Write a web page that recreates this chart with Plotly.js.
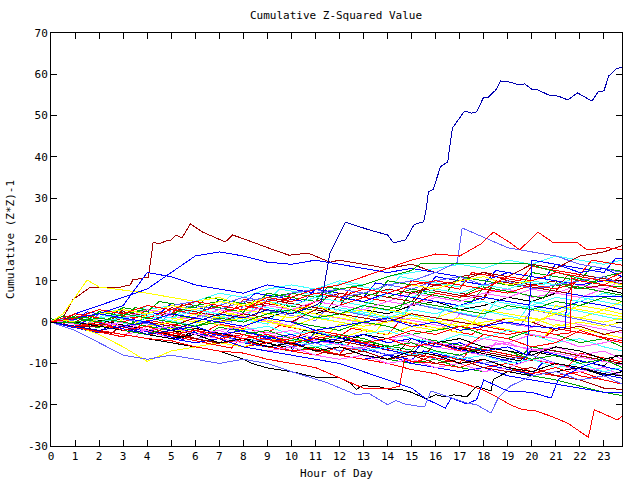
<!DOCTYPE html>
<html>
<head>
<meta charset="utf-8">
<script src="https://cdn.plot.ly/plotly-3.0.1.min.js"></script>
<style>
html,body{margin:0;padding:0;background:#fff;}
#chart{width:640px;height:480px;}
svg path.js-line{shape-rendering:crispEdges;}
</style>
</head>
<body>
<div id="chart"></div>
<script>
// ---- reading grids ----
const hours = [0,1,2,3,4,5,6,7,8,9,10,11,12,13,14,15,16,17,18,19,20,21,22,23,23.75];
const halfHours = [0,0.5,1,1.5,2,2.5,3,3.5,4,4.5,5,5.5,6,6.5,7,7.5,8,8.5,9,9.5,10,10.5,11,11.5,
  12,12.5,13,13.5,14,14.5,15,15.5,16,16.5,17,17.5,18,18.5,19,19.5,20,20.5,21,21.5,22,22.5,23,23.5,23.75];
const hourTicks = [0,1,2,3,4,5,6,7,8,9,10,11,12,13,14,15,16,17,18,19,20,21,22,23];
const valueTicks = [-30,-20,-10,0,10,20,30,40,50,60,70];

// ---- hourly series ----
const red1 = [0,-1,-2,-1,-3,-4,-3,-5,-6,-5,-7,-8,-6,-7,-9,-10,-8,-9,-11,-10,-12,-13,-12,-14,-15];
const red2 = [0,2,1,0,2,1,3,2,4,3,2,5,4,6,5,4,7,6,8,7,9,8,10,9,11];
const red3 = [0,-1,0,-2,-1,-3,-2,-4,-3,-5,-4,-2,-3,-5,-4,-6,-5,-7,-3,-4,-6,-5,-2,-4,-5];
const red4 = [0,1,3,2,4,3,5,4,3,6,5,7,6,8,7,9,10,9,8,11,10,12,11,10,12];
const darkred2 = [0,1,2,1,3,2,4,3,5,4,6,5,7,6,8,7,9,10,12,11,14,13,16,17,18.5];
const darkred3 = [0,-1,-1,-2,-3,-2,-4,-5,-4,-6,-5,-7,-8,-7,-9,-8,-10,-9,-11,-12,-11,-13,-14,-16,-16.3];
const darkred4 = [0,0,-1,1,0,-1,1,0,2,1,0,3,2,1,0,2,1,0,-1,1,0,-2,-1,-3,-2];
const green2 = [0,-1,-2,-1,-3,-2,-4,-5,-4,-6,-7,-6,-8,-7,-9,-10,-9,-11,-12,-11,-13,-14,-15.5,-17,-17.8];
const green3 = [0,1,0,-1,1,0,2,1,3,2,4,6,5,7,6,8,7,6,9,8,10,9,8,11,12];
const green4 = [0,-1,0,-2,-3,-1,-2,-4,-3,-2,-4,-5,-3,-4,-6,-5,-7,-8,-6,-7,-9,-8,-10,-9,-11];
const green5 = [0,0,1,0,-1,-2,-1,0,-1,1,0,-1,-2,0,-1,-3,-2,-1,-3,-4,-2,-3,-5,-4,-6];
const green6 = [0,1,0,2,1,0,-1,1,0,2,3,1,2,4,3,5,4,3,2,4,3,5,4,6,5];
const blue3 = [0,-1,0,-2,-1,-3,-4,-3,-5,-6,-5,-7,-8,-9,-8,-10,-11,-12,-11,-13,-14,-15,-16,-17,-17];
const blue4 = [0,2,4,6,8,12,16,17,16,14.5,14,15,14,13,12,13,12,11,10,12,11,10,9,10,10];
const blue5 = [0,1,2,4,12,11,9,8,7,9,8,7,6,5,7,6,5,4,6,5,4,3,5,4,3];
const slate3 = [0,-1,-2,-1,-3,-2,-4,-3,-5,-4,-6,-5,-7,-6,-8,-7,-9,-8,-10,-9,-8,-10,-11,-12,-13];
const slate4 = [0,1,2,3,2,4,5,4,6,5,7,8,6,7,9,8,10,11,9,10,8,9,10,11,9];
const cyan1 = [0,1,2,1,3,4,5,7,6,8,9,8,10,9,11,12,13,14,13,15,14,16,15,14,15];
const cyan2 = [0,-1,0,-2,-1,-3,-2,-4,-5,-3,-4,-6,-5,-7,-6,-8,-7,-9,-8,-10,-9,-11,-10,-12,-11];
const cyan3 = [0,0,1,2,1,3,2,4,3,5,4,6,5,4,7,6,8,7,9,8,10,9,11,10,9];
const cyan4 = [0,-1,-2,-1,0,-2,-1,-3,-2,-1,-3,-2,-4,-3,-2,-4,-5,-3,-4,-2,-3,-5,-4,-6,-7];
const cyan5 = [0,1,0,1,2,1,3,2,1,3,2,4,3,2,1,3,2,4,5,3,4,6,5,7,6];
const magenta1 = [0,1,0,2,3,2,4,3,5,4,6,5,4,6,5,7,6,5,7,8,6,7,9,8,7];
const magenta2 = [0,-1,-2,-3,-2,-4,-5,-4,-6,-7,-6,-8,-9,-8,-10,-9,-11,-10,-12,-11,-9,-10,-12,-11,-13];
const magenta3 = [0,0,-1,0,-2,-1,-3,-2,-1,-3,-4,-2,-3,-5,-4,-6,-5,-4,-6,-5,-7,-6,-8,-7,-9];
const magenta4 = [0,1,2,1,3,2,1,3,2,4,3,5,4,3,5,4,6,5,7,6,8,7,6,8,10];
const magenta5 = [0,-1,0,-1,-2,-1,-3,-2,-4,-3,-2,-4,-3,-5,-4,-3,-5,-6,-4,-5,-3,-4,-6,-5,-4];
const yellow2 = [0,-1,-3,-6,-9.5,-7,-6,-5,-6,-4,-5,-3,-4,-2,-3,-1,-2,0,-1,1,0,2,1,3,2];
const yellow3 = [0,1,0,2,1,0,2,1,3,2,1,3,2,0,1,2,1,3,2,4,3,2,4,3,5];
const yellow4 = [0,0,1,0,-1,0,-1,0,1,0,-1,1,0,-1,0,1,0,-1,0,1,0,2,1,0,1];
const yellow5 = [0,1,2,3,2,4,3,5,4,6,5,7,6,8,7,9,8,10,11,9,10,12,11,10,9];
const black2 = [0,-1,0,1,0,2,1,3,2,1,3,2,4,3,2,4,5,3,4,6,5,7,6,8,7];
const black3 = [0,-1,-2,-1,-3,-4,-3,-5,-4,-6,-5,-7,-6,-8,-9,-7,-8,-10,-9,-11,-12,-10,-11,-13,-12];
const black4 = [0,0,-1,-2,-1,-2,-3,-2,-4,-3,-2,-4,-5,-3,-4,-6,-5,-4,-6,-7,-8,-6,-7,-9,-8];

// ---- half-hourly series ----
const redHalf1 = [0,-0.5,-1,0.5,0,-0.6,-1.2,-1.8, 0.5,0,-0.5,-1,-1.6,-2.1,-0.5,-1, -1.5,-2,-2.6,-0.8,-1.3,-1.9,-2.4,-3,
  -3.5,-1.5,-2,-2.6,-3.1,0.2,-0.3,-0.9, -1.4,-2,-2.5,-3,-1,-1.6,-2.1,-2.6, -3.2,-3.8,-1.5,-2,-2.6,-3.1,-3.7,-4.2, -4.5];
const greenHalf1 = [0.8,0.3,-0.3,-0.8,-1.4,1.2,0.7,0.1, -0.4,-1,-1.5,-2,-2.6,-3.1,-1.2,-1.7, -2.3,-2.8,-3.4,-3.9,-4.4,-5,-2.5,-3,
  -3.5,-4.1,-4.6,-5.2,-5.7,-6.3,-6.8,-4, -4.5,-5,-5.6,-6.1,-6.7,-7.2,-7.8,-8.3, -6,-6.5,-7.1,-7.6,-8.2,-8.7,-9.2,-9.8, -10];
const blueHalf1 = [0,-0.7,-1.3,-2,-2.6,-0.4,-1,-1.7, -2.3,-3,-3.6,-4.2,-2,-2.6,-3.3,-3.9, -4.5,-5.2,-5.8,-6.4,-7,-3.5,-4.1,-4.7,
  -5.4,-6,-6.6,-7.2,-7.9,-8.5,-9.1,-7, -7.6,-8.2,-8.9,-9.5,-10.1,-10.8,-11.4,-12, -12.7,-9.5,-10.1,-10.8,-11.4,-12,-12.7,-13.3, -13.6];
const magentaHalf1 = [0.5,0,-0.5,-1,1,0.5,0,-0.5, -1,2,1.5,1,0.4,-0.1,-0.6,1.8, 1.3,0.7,0.2,-0.3,-0.9,2.5,2,1.4,
  0.9,0.3,-0.2,-0.8,1.5,1,0.4,-0.1, -0.7,-1.2,2,1.5,0.9,0.4,-0.2,-0.7, -1.3,1,0.5,-0.1,-0.6,-1.2,-1.7,-2.3, -2.6];
const cyanHalf1 = [0,-0.6,1.5,1,0.4,-0.1,2.5,2, 1.4,0.9,0.3,3,2.5,1.9,1.4,0.8, 0.3,4,3.5,2.9,2.4,1.8,1.3,0.7,
  3.5,3,2.4,1.9,1.3,0.8,4.5,4, 3.4,2.9,2.3,1.8,1.2,5,4.5,3.9, 3.4,2.8,2.3,1.7,6,5.5,4.9,4.4, 4.1];
const darkredHalf1 = [0,-0.5,-1.1,-1.6,-2.2,-2.7,-0.8,-1.3, -1.9,-2.4,-3,-3.5,-4.1,-4.6,-5.2,-2.5, -3,-3.6,-4.1,-4.7,-5.2,-5.8,-3.5,-4,
  -4.6,-5.1,-5.7,-6.2,-6.8,-7.3,-7.9,-8.4, -5,-5.5,-6.1,-6.6,-7.2,-7.7,-8.3,-8.8, -9.4,-6.5,-7,-7.6,-8.1,-8.7,-9.2,-9.8, -10];
const yellowHalf1 = [0,-0.6,-1.2,-0.2,-0.8,-1.4,0.8,0.2, -0.4,-1,-1.6,-2.2,0.5,-0.1,-0.7,-1.3, -1.9,0.6,0,-0.6,-1.2,-1.8,-2.4,-3,
  -0.5,-1.1,-1.7,-2.3,1,0.4,-0.2,-0.8, -1.4,-2,-2.6,0,-0.6,-1.2,-1.8,-2.4, -3,-3.6,-0.5,-1.1,-1.7,-2.3,-2.9,-3.5, -3.8];
const blackHalf1 = [0,-0.6,-1.2,-1.8,0.5,-0.1,-0.7,-1.3, -1.9,-2.5,-3.1,-3.7,-1.5,-2.1,-2.7,-3.3, -3.9,-4.5,-5.1,-5.7,-6.3,-2,-2.6,-3.2,
  -3.8,-4.4,-5,-5.6,-6.2,-6.8,-4,-4.6, -5.2,-5.8,-6.4,-7,-7.6,-8.2,-8.8,-9.4, -7,-7.6,-8.2,-8.8,-9.4,-10,-10.6,-8, -8.3];
const slateHalf1 = [0,0.8,0.2,-0.4,2,1.4,0.8,0.2, -0.4,-1,3,2.4,1.8,1.2,0.6,0, 4,3.4,2.8,2.2,1.6,1,0.4,3.5,
  2.9,2.3,1.7,1.1,0.5,-0.1,4.5,3.9, 3.3,2.7,2.1,1.5,0.9,0.3,-0.3,-0.9, 3,2.4,1.8,1.2,0.6,0,-0.6,-1.2, -1.5];
const greenHalf2 = [0,1.5,1,0.4,2.5,2,1.4,3.5, 3,2.4,1.9,1.3,0.8,4,3.5,2.9, 2.4,5.5,5,4.4,3.9,3.3,2.8,6.5,
  6,5.4,4.9,4.3,3.8,3.2,7.5,7, 6.4,5.9,5.3,4.8,8.5,8,7.4,6.9, 6.3,5.8,9.5,9,8.4,7.9,7.3,6.8, 6.5];
const redHalf2 = [0,-0.6,-1.2,-1.8,-2.4,-3,-3.6,-1.5, -2.1,-2.7,-3.3,-3.9,-4.5,-5.1,-5.7,-6.3, -3,-3.6,-4.2,-4.8,-5.4,-6,-6.6,-7.2,
  -7.8,-4.5,-5.1,-5.7,-6.3,-6.9,-7.5,-8.1, -8.7,-9.3,-9.9,-6,-6.6,-7.2,-7.8,-8.4, -9,-9.6,-10.2,-10.8,-7.5,-8.1,-8.7,-9.3, -9.6];
const cyanHalf2 = [0,0.6,0,-0.6,1,0.4,-0.2,-0.8, 1.5,0.9,0.3,-0.3,-0.9,2.5,1.9,1.3, 0.7,0.1,-0.5,3,2.4,1.8,1.2,0.6,
  0,-0.6,4,3.4,2.8,2.2,1.6,1, 0.4,4.5,3.9,3.3,2.7,2.1,1.5,0.9, 5,4.4,3.8,3.2,2.6,2,1.4,0.8, 0.5];
const blueHalf2 = [0,-0.7,-1.4,0.5,-0.2,-0.9,-1.6,-2.3, -3,-0.5,-1.2,-1.9,-2.6,-3.3,-4,-1.5, -2.2,-2.9,-3.6,-4.3,-5,-5.7,-2.5,-3.2,
  -3.9,-4.6,-5.3,-6,-6.7,-7.4,-8.1,-4.5, -5.2,-5.9,-6.6,-7.3,-8,-8.7,-9.4,-10.1, -6.5,-7.2,-7.9,-8.6,-9.3,-10,-10.7,-11.4, -11.8];
const magentaHalf2 = [0,-0.5,-1,-1.5,-2,-2.5,-3,-3.5, -1,-1.5,-2,-2.5,-3,-3.5,-4,-4.5, -5,-2,-2.5,-3,-3.5,-4,-4.5,-5,
  -5.5,-6,-6.5,-3.5,-4,-4.5,-5,-5.5, -6,-6.5,-7,-7.5,-8,-5,-5.5,-6, -6.5,-7,-7.5,-8,-8.5,-9,-9.5,-10, -10.3];
const darkredHalf2 = [0,0.5,2,1.5,1,0.5,3,2.5, 2,1.5,1,4.5,4,3.5,3,2.5, 2,1.5,5.5,5,4.5,4,3.5,3,
  7,6.5,6,5.5,5,4.5,4,8, 7.5,7,6.5,6,5.5,10,9.5,9, 8.5,8,7.5,7,11.5,11,10.5,10, 9.8];
const yellowHalf2 = [0,0.5,0,-0.5,1,0.5,0,-0.5, 2,1.5,1,0.5,0,-0.5,2.5,2, 1.5,1,0.5,0,3,2.5,2,1.5,
  1,0.5,0,3.5,3,2.5,2,1.5, 1,0.5,0,-0.5,3,2.5,2,1.5, 1,0.5,4,3.5,3,2.5,2,1.5, 1.3];
const blueHalf3 = [0,1,0.5,2.5,2,1.5,3.5,3, 2.5,2,4.5,4,3.5,3,5.5,5, 4.5,7,6.5,6,5.5,5,8,7.5,
  7,6.5,6,9.5,9,8.5,8,7.5, 11,10.5,10,9.5,9,12.5,12,11.5, 11,10.5,14,13.5,13,12.5,12,15.5, 15.3];
const cyanHalf3 = [0,0.5,2,1.5,1,3,2.5,2, 4,3.5,3,2.5,5,4.5,4,6.5, 6,5.5,5,8,7.5,7,6.5,6,
  9.5,9,8.5,8,7.5,11,10.5,10, 9.5,9,8.5,12,11.5,11,10.5,10, 9.5,9,12.5,12,11.5,11,10.5,10, 9.8];
const redHalf3 = [0,-0.5,1,0.5,2.5,2,1.5,1, 3,2.5,2,4.5,4,3.5,3,2.5, 5.5,5,4.5,4,7,6.5,6,5.5,
  5,8.5,8,7.5,7,6.5,10,9.5, 9,8.5,8,12,11.5,11,10.5,10, 13.5,13,12.5,12,11.5,15,14.5,14, 13.8];
const darkredHalf3 = [0,0.5,0,1.5,1,0.5,2.5,2, 1.5,1,3.5,3,2.5,2,1.5,4.5, 4,3.5,3,2.5,6,5.5,5,4.5,
  4,7.5,7,6.5,6,5.5,5,8.5, 8,7.5,7,6.5,6,10,9.5,9, 8.5,8,7.5,11.5,11,10.5,10,9.5, 9.3];
const greenHalf3 = [0,0.5,1.5,1,2.5,2,3.5,3, 2.5,5,4.5,4,3.5,6,5.5,5, 4.5,4,7,6.5,6,5.5,5,8.5,
  8,7.5,7,6.5,10,9.5,9,8.5, 8,7.5,11,10.5,10,9.5,9,8.5, 12,11.5,11,10.5,10,13.5,13,12.5, 12.3];

// ---- series with their own reading times ----
const bigBlueHours = [0,1,2,3,4,5,6,7,8,9,10,11,11.25,11.6,12.25,13.25,14,14.25,14.75,15.1,15.5,15.6,15.7,15.9,16.2,16.5,16.7,17.2,17.5,17.7,18,18.2,18.5,18.7,19.1,19.5,19.7,20,20.25,20.7,21.1,21.5,21.9,22.5,22.75,23,23.2,23.5,23.75];
const bigBlueValues = [0,-1,-2,-1,-3,-2,0,2,1,3,2,4,5,16.7,24.2,22.3,21.1,19.2,19.9,23.6,24.3,27.1,31.5,32.2,37.6,38.8,47,51.1,50.6,50.9,54.5,54.5,56.2,58.4,58.1,57.4,57.7,56.4,56.2,55,54.7,53.8,55.5,53.5,55.7,56,59.6,61.3,61.8];

const redLowHours = [0,1,2,3,4,5,6,7,8,9,10,11,12,13,14,15,16,17,18,18.5,19.1,19.6,20.1,20.8,21.5,22.35,22.6,23.1,23.55,23.75];
const redLowValues = [0,-1,-0.5,-2,-3,-2.5,-4,-5,-4.5,-6,-7,-6.5,-8,-9,-10,-11.5,-12.5,-14.5,-16.5,-18,-20,-21.2,-21.4,-22.8,-24.5,-27.9,-21.2,-22.5,-23.7,-22.8];

const redJumpHours = [0,1,2,3,4,5,6,7,8,9,10,11,12,13,14,14.5,14.7,15,16,17,18,19,20,21,22,23,23.75];
const redJumpValues = [0,-1,-2,-3,-4,-4.5,-6,-7,-7.5,-9,-10,-11,-13.5,-16,-16.2,-15.5,-9,-9.5,-10,-11,-9,-11,-12.5,-11,-13,-14,-15];

const redTopHours = [0,1,2,3,4,5,6,7,8,9,10,11,12,13,14,15,16,17,17.9,18.4,19.1,19.5,20.25,20.9,21.9,22.3,23.2,23.75];
const redTopValues = [0,1,0,2,1,3,2,4,3,5,6,8,9,11,13,15,16.5,16,19,21.8,19.2,17.5,21.8,19.2,19.2,17.5,18,17.5];

const redStepHours = [0,1,2,3,4,5,6,7,8,9,10,11,12,13,14,15,16,17,18,19,20,21,21.6,21.65,22,23,23.75];
const redStepValues = [0,-1,0,-2,-1,-3,-2,-3,-4,-3,-5,-4,-3,-5,-4,-2,-3,-1,-2,-3,-2,-3,-2.6,10.7,10,9,8];

const darkRedHours = [0,0.5,0.9,1.6,2.75,3.3,3.4,4.05,4.25,4.5,4.75,5,5.2,5.45,5.8,6.3,6.7,7.25,7.55,7.9,9.25,9.9,10.7,11.6,12,13,14,15,16,17,18,19,20,21,22,23,23.75];
const darkRedValues = [0,1,5.4,8.3,8.3,9,10.2,10.9,19.4,18.9,19.6,19.9,21.1,20.4,23.8,21.8,20.8,19.4,21.1,20.4,17.5,16.2,16.7,14.5,15,14,13,14,12,11,12,10,9,10,8,9,8];

const greenFlatHours = [0,1,2,3,4,5,6,7,8,9,10,11,12,13,14,15,15.4,19.7,20.3,21,22,23,23.75];
const greenFlatValues = [0,1,0,2,3,2,4,5,4,6,7,6,8,9,11,12.5,14.3,14.3,13.3,12.1,10.5,9,8.5];

const blueLowHours = [0,1,2,3,4,5,6,7,8,9,10,11,12,13,14,15,15.6,16.4,16.65,17.3,17.7,18,19,20,20.8,21.1,22,23,23.75];
const blueLowValues = [0,-1,-2,-1,-3,-4,-5,-4,-6,-7,-8,-9,-10,-12,-14,-16,-18.6,-20.8,-18.4,-19.8,-18.8,-14,-16.7,-17,-18.4,-13.9,-11,-9,-8];

const blueJumpHours = [0,1,2,3,4,5,6,7,8,9,10,11,12,13,14,15,16,17,18,19,19.8,20,21,22,23,23.75];
const blueJumpValues = [0,1,0,-1,0,-2,-1,-3,-2,-4,-3,-5,-4,-3,-5,-4,-6,-5,-7,-6,-8,15,14,12,13,11];

const blueStepHours = [0,1,2,3,4,5,6,7,8,9,10,11,12,13,14,15,16,17,18,19,20,21,21.4,21.45,22,22.3,23.75];
const blueStepValues = [0,1,2,1,0,2,1,0,-1,1,0,-2,-1,0,1,-1,0,-2,-1,0,-1,-1.5,-1.2,7,6.5,6.1,6.1];

const slateLowHours = [0,1,2,3,4,5,6,7,8,9,10,11,11.5,12.7,13.2,14,14.35,14.7,15.3,15.55,15.8,16.7,17.3,17.7,18.3,18.6,19.1,20,21,22,23,23.75];
const slateLowValues = [0,-2,-5,-8,-9,-8,-9,-10,-9,-10,-12,-13.9,-14.7,-17.6,-17.2,-20,-19,-19.8,-20.4,-20.4,-16.7,-18.4,-19.6,-20,-22,-18.4,-15.5,-13,-12,-14,-13,-15];

const slateJumpHours = [0,1,2,3,4,5,6,7,8,9,10,11,12,13,14,15,16,16.9,17.1,18.5,19,20,21,22,23,23.75];
const slateJumpValues = [0,1,0,2,1,3,4,3,5,6,5,7,8,7,9,10,12,14.5,22.8,19.2,18,17,16,14,13,12];

const yellowPeakHours = [0,0.5,1,1.5,2,3,4,5,6,7,8,9,10,11,12,13,14,15,16,17,18,19,20,21,22,23,23.75];
const yellowPeakValues = [0,2,6,10.2,8.5,7.8,7,6,5,6,4,5,3,4,2,3,1,2,0,1,-1,0,1,-1,0,-1,0];

const blackLowHours = [0,1,2,3,4,5,6,7,8,8.3,9,10,11,12,12.45,12.7,12.95,13.6,14,14.5,15,15.6,16,16.4,16.75,17.3,17.7,18.3,18.4,19,20,21,22,23,23.75];
const blackLowValues = [0,-1,-2,-3,-4,-5,-6,-7,-9,-9.9,-11.1,-12,-13.3,-13.5,-14.7,-16.3,-15.4,-15.6,-16.2,-16.2,-17,-18.6,-17.6,-18.1,-17.6,-18.1,-15.5,-16.7,-13.9,-12,-13,-12,-11,-12.5,-13];

// ---- colours ----
const RED = '#ff0000', DARKRED = '#a00000', GREEN = '#00a000', BLUE = '#0000ff',
      NAVY = '#0000b0', SLATE = '#6060ff', CYAN = '#40ffff', MAGENTA = '#ff60ff',
      YELLOW = '#ffff00', BLACK = '#000000';

const series = [
  [hours, red1, RED], [hours, green2, GREEN], [hours, blue3, BLUE], [hours, magenta1, MAGENTA],
  [halfHours, redHalf1, RED], [halfHours, greenHalf1, GREEN], [halfHours, blueHalf1, BLUE], [halfHours, magentaHalf1, MAGENTA],
  [hours, cyan1, CYAN], [darkRedHours, darkRedValues, DARKRED], [hours, yellow2, YELLOW], [hours, black2, BLACK],
  [halfHours, cyanHalf1, CYAN], [halfHours, darkredHalf1, DARKRED], [halfHours, yellowHalf1, YELLOW], [halfHours, blackHalf1, BLACK],
  [halfHours, blueHalf3, BLUE], [halfHours, cyanHalf3, CYAN], [halfHours, redHalf3, RED],
  [hours, slate3, SLATE], [redLowHours, redLowValues, RED], [hours, green3, GREEN], [hours, blue4, BLUE],
  [halfHours, slateHalf1, SLATE], [halfHours, redHalf2, RED], [halfHours, greenHalf2, GREEN], [halfHours, blueHalf2, BLUE],
  [hours, magenta2, MAGENTA], [hours, cyan2, CYAN], [hours, darkred2, DARKRED], [hours, yellow3, YELLOW],
  [halfHours, darkredHalf3, DARKRED], [halfHours, greenHalf3, GREEN],
  [halfHours, magentaHalf2, MAGENTA], [halfHours, cyanHalf2, CYAN], [halfHours, darkredHalf2, DARKRED], [halfHours, yellowHalf2, YELLOW],
  [blackLowHours, blackLowValues, BLACK], [slateJumpHours, slateJumpValues, SLATE], [redJumpHours, redJumpValues, RED],
  [greenFlatHours, greenFlatValues, GREEN], [blueLowHours, blueLowValues, BLUE], [hours, magenta3, MAGENTA],
  [hours, cyan3, CYAN], [hours, darkred3, DARKRED], [yellowPeakHours, yellowPeakValues, YELLOW], [hours, black3, BLACK],
  [slateLowHours, slateLowValues, SLATE], [hours, red2, RED], [hours, green4, GREEN], [hours, blue5, BLUE],
  [hours, magenta4, MAGENTA], [hours, cyan4, CYAN], [hours, darkred4, DARKRED], [hours, yellow4, YELLOW],
  [hours, black4, BLACK], [hours, slate4, SLATE], [redTopHours, redTopValues, RED], [hours, green5, GREEN],
  [blueJumpHours, blueJumpValues, BLUE], [hours, magenta5, MAGENTA], [hours, cyan5, CYAN], [hours, yellow5, YELLOW],
  [hours, red3, RED], [hours, green6, GREEN], [blueStepHours, blueStepValues, BLUE], [redStepHours, redStepValues, RED],
  [hours, red4, RED], [bigBlueHours, bigBlueValues, NAVY]
];

const traces = series.map(s => ({
  type: 'scatter', mode: 'lines', x: s[0], y: s[1],
  line: {color: s[2], width: 1}, hoverinfo: 'skip', showlegend: false
}));

const FONT = {family: 'DejaVu Sans Mono, monospace', size: 11, color: '#000'};

const layout = {
  width: 640, height: 480,
  margin: {l: 51, r: 18, t: 33, b: 34, pad: 0},
  paper_bgcolor: '#ffffff', plot_bgcolor: '#ffffff',
  showlegend: false, hovermode: false,
  font: FONT,
  title: {text: 'Cumulative Z-Squared Value', font: FONT, x: 0.525, xanchor: 'center', y: 0.969, yanchor: 'middle'},
  xaxis: {
    range: [0, 23.75], tickvals: hourTicks, ticktext: hourTicks.map(String),
    ticks: 'inside', ticklen: 6, tickwidth: 1, tickcolor: '#000',
    showline: true, linecolor: '#000', linewidth: 1, mirror: 'ticks',
    showgrid: false, zeroline: false, tickfont: FONT,
    title: {text: 'Hour of Day', font: FONT, standoff: 7}
  },
  yaxis: {
    range: [-30, 70], tickvals: valueTicks, ticktext: valueTicks.map(String),
    ticks: 'inside', ticklen: 6, tickwidth: 1, tickcolor: '#000',
    showline: true, linecolor: '#000', linewidth: 1, mirror: 'ticks',
    showgrid: false, zeroline: false, tickfont: FONT,
    title: {text: 'Cumulative (Z*Z)-1', font: FONT, standoff: 11}
  }
};

Plotly.newPlot('chart', traces, layout, {staticPlot: true, displayModeBar: false});
</script>
</body>
</html>
